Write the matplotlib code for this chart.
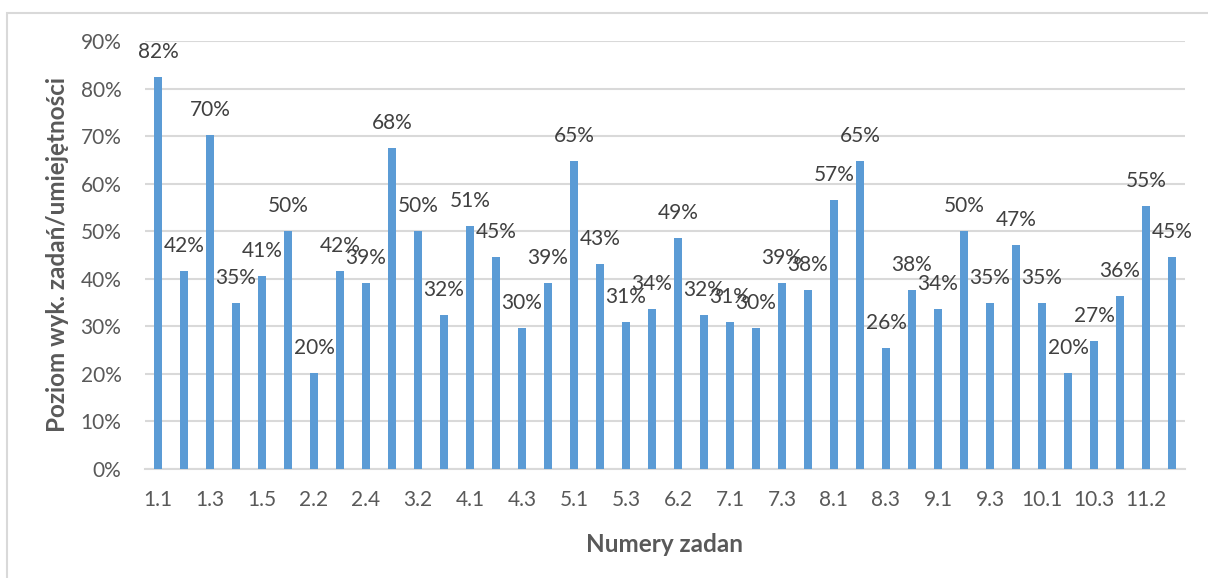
import numpy as np
import matplotlib.pyplot as plt
from matplotlib.patches import Rectangle
from matplotlib.ticker import FuncFormatter

# numery zadan i poziom wykonania (w %)
zadania = ['1.1', '1.2', '1.3', '1.4', '1.5', '2.1', '2.2', '2.3', '2.4', '3.1',
           '3.2', '3.3', '4.1', '4.2', '4.3', '4.4', '5.1', '5.2', '5.3', '6.1',
           '6.2', '6.3', '7.1', '7.2', '7.3', '7.4', '8.1', '8.2', '8.3', '8.4',
           '9.1', '9.2', '9.3', '9.4', '10.1', '10.2', '10.3', '11.1', '11.2', '11.3']
poziom = [82.5, 41.7, 70.2, 35.0, 40.6, 50.0, 20.1, 41.7, 39.1, 67.6,
          50.0, 32.4, 51.2, 44.6, 29.6, 39.1, 64.8, 43.1, 30.9, 33.6,
          48.6, 32.4, 30.9, 29.6, 39.1, 37.7, 56.6, 64.8, 25.5, 37.7,
          33.6, 50.0, 34.9, 47.2, 34.9, 20.1, 26.9, 36.4, 55.3, 44.6]

plt.rcParams['font.family'] = ['Lato', 'DejaVu Sans']

fig = plt.figure(figsize=(12.08, 5.78), dpi=100)
ax = fig.add_axes([145 / 1208, 1 - 469 / 578, 1040 / 1208, 428 / 578])

x = np.arange(len(zadania))
ax.bar(x, poziom, width=0.3, color='#5b9bd5', zorder=3)

for xi, v in zip(x, poziom):
    ax.annotate(f'{v:.0f}%', (xi, v), xytext=(0, 18), textcoords='offset points',
                ha='center', va='center', fontsize=15, color='#404040', zorder=4)

ax.set_xlim(-0.5, len(zadania) - 0.5)
ax.set_ylim(0, 90)
ax.set_yticks(np.arange(0, 91, 10))
ax.yaxis.set_major_formatter(FuncFormatter(lambda v, p: f'{v:.0f}%'))
ax.set_xticks(x[::2])
ax.set_xticklabels(zadania[::2])
ax.tick_params(axis='both', length=0, labelsize=15, labelcolor='#595959')
ax.tick_params(axis='y', pad=17)
ax.tick_params(axis='x', pad=15)

ax.grid(axis='y', color='#d9d9d9', linewidth=1.5, zorder=0)
for s in ['top', 'right', 'left']:
    ax.spines[s].set_visible(False)
ax.spines['bottom'].set_color('#d9d9d9')
ax.spines['bottom'].set_linewidth(1.5)

ax.set_xlabel('Numery zadan', fontsize=17.5, fontweight='bold', color='#595959', labelpad=17)
ax.set_ylabel('Poziom wyk. zadań/umiejętności', fontsize=17.5, fontweight='bold',
              color='#595959', labelpad=8)

# ramka obszaru wykresu
fig.patches.append(Rectangle((7 / 1208, -0.5), 2, 1.5 - 12.5 / 578, transform=fig.transFigure,
                             fill=False, edgecolor='#d9d9d9', linewidth=1.5))

fig.savefig('out.png', dpi=100)
